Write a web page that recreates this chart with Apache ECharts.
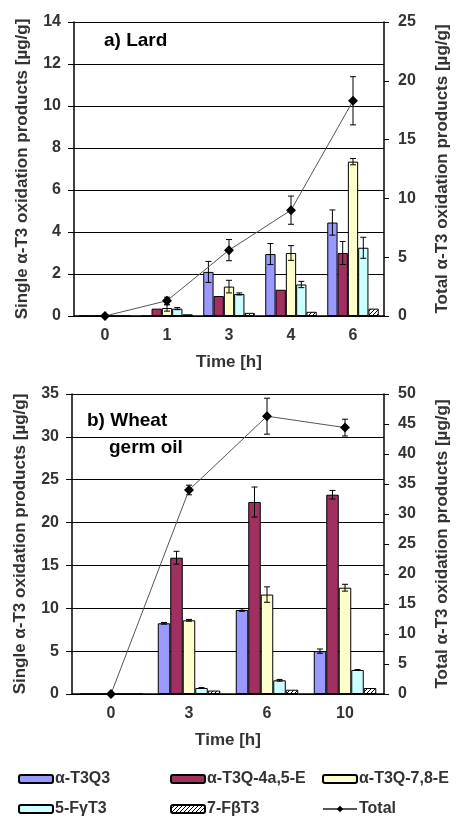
<!DOCTYPE html>
<html>
<head>
<meta charset="utf-8">
<script src="https://cdn.jsdelivr.net/npm/echarts@6/dist/echarts.min.js"></script>
<style>
html, body { margin: 0; padding: 0; background: #fff; }
#chart { width: 459px; height: 822px; }
</style>
</head>
<body>
<div id="chart"></div>
<script>
// names
var seriesNames = ['α-T3Q3', 'α-T3Q-4a,5-E', 'α-T3Q-7,8-E', '5-FγT3', '7-FβT3'];
var totalName = 'Total';

// a) Lard
var lardTimes = ['0', '1', '3', '4', '6'];
var lardQ3 = [0, 0, 2.1, 2.95, 4.45];
var lardQ3Err = [0, 0, 0.5, 0.5, 0.6];
var lard4a5E = [0, 0.35, 0.95, 1.25, 3.0];
var lard4a5EErr = [0, 0, 0, 0, 0.55];
var lard78E = [0, 0.38, 1.4, 3.0, 7.35];
var lard78EErr = [0, 0.15, 0.3, 0.35, 0.15];
var lardFg = [0, 0.35, 1.05, 1.5, 3.25];
var lardFgErr = [0, 0.05, 0.05, 0.15, 0.5];
var lardFb = [0, 0.08, 0.15, 0.2, 0.35];
var lardTotal = [0, 1.3, 5.6, 9.0, 18.3];
var lardTotalErr = [0, 0.3, 0.9, 1.2, 2.05];

// b) Wheat germ oil
var wheatTimes = ['0', '3', '6', '10'];
var wheatQ3 = [0, 8.25, 9.8, 5.0];
var wheatQ3Err = [0, 0.1, 0.15, 0.25];
var wheat4a5E = [0, 15.9, 22.4, 23.25];
var wheat4a5EErr = [0, 0.75, 1.75, 0.5];
var wheat78E = [0, 8.6, 11.6, 12.4];
var wheat78EErr = [0, 0.1, 0.9, 0.4];
var wheatFg = [0, 0.7, 1.6, 2.8];
var wheatFgErr = [0, 0.05, 0.1, 0.05];
var wheatFb = [0, 0.4, 0.5, 0.7];
var wheatTotal = [0, 34.0, 46.3, 44.4];
var wheatTotalErr = [0, 0.8, 3.0, 1.4];

var FONT = 'Liberation Sans';

function hatch() {
    var c = document.createElement('canvas');
    c.width = 4; c.height = 4;
    var g = c.getContext('2d');
    g.fillStyle = '#fff';
    g.fillRect(0, 0, 4, 4);
    g.strokeStyle = '#000';
    g.lineWidth = 1;
    g.beginPath();
    g.moveTo(-1, 5); g.lineTo(5, -1);
    g.stroke();
    return c;
}

var fills = ['#9999ff', '#a0305f', '#ffffcc', '#ccffff', { image: hatch(), repeat: 'repeat' }];

function errorRender(slot, barW) {
    return function (params, api) {
        var e = api.value(2);
        if (!e) return;
        var cat = api.value(0), v = api.value(1);
        var hi = api.coord([cat, v + e]);
        var lo = api.coord([cat, v - e]);
        var x = hi[0] + (slot - 2) * barW;
        var c = 3;
        var st = { stroke: '#000', lineWidth: 1 };
        return {
            type: 'group',
            children: [
                { type: 'line', shape: { x1: x, y1: hi[1], x2: x, y2: lo[1] }, style: st },
                { type: 'line', shape: { x1: x - c, y1: hi[1], x2: x + c, y2: hi[1] }, style: st },
                { type: 'line', shape: { x1: x - c, y1: lo[1], x2: x + c, y2: lo[1] }, style: st }
            ]
        };
    };
}

function errData(vals, errs) {
    return vals.map(function (v, i) { return [i, v, errs[i]]; });
}

function buildSeries(g, barW, bars, errs, total, totalErr) {
    var out = [];
    bars.forEach(function (vals, i) {
        out.push({
            name: seriesNames[i], type: 'bar',
            xAxisIndex: g, yAxisIndex: g * 2,
            barWidth: barW, barGap: '0%',
            itemStyle: { color: fills[i], borderColor: '#000', borderWidth: 1 },
            data: vals
        });
    });
    errs.forEach(function (e, i) {
        if (!e) return;
        out.push({
            type: 'custom', name: 'err' + g + i,
            xAxisIndex: g, yAxisIndex: g * 2, z: 5,
            renderItem: errorRender(i, barW),
            data: errData(bars[i], e)
        });
    });
    out.push({
        name: totalName, type: 'line',
        xAxisIndex: g, yAxisIndex: g * 2 + 1, z: 6,
        symbol: 'diamond', symbolSize: 10,
        itemStyle: { color: '#000' },
        lineStyle: { color: '#555', width: 1 },
        data: total
    });
    out.push({
        type: 'custom', name: 'errT' + g,
        xAxisIndex: g, yAxisIndex: g * 2 + 1, z: 6,
        renderItem: errorRender(2, 0),
        data: errData(total, totalErr)
    });
    return out;
}

var tickLabel = { fontFamily: FONT, fontWeight: 'bold', fontSize: 16, color: '#333' };
var nameStyle = { fontFamily: FONT, fontWeight: 'bold', fontSize: 17, color: '#333' };

function xAxis(g, data) {
    return {
        type: 'category', gridIndex: g, data: data,
        name: 'Time [h]', nameLocation: 'middle', nameGap: 38, nameTextStyle: nameStyle,
        axisLine: { lineStyle: { color: '#000', width: 1.5 } },
        axisTick: { length: 6, lineStyle: { color: '#000' } },
        axisLabel: Object.assign({ margin: 12 }, tickLabel)
    };
}

function yLeft(g, max, step) {
    return {
        type: 'value', gridIndex: g, min: 0, max: max, interval: step,
        name: 'Single α-T3 oxidation products [µg/g]', nameLocation: 'middle', nameGap: 43,
        nameTextStyle: nameStyle,
        axisLine: { show: true, lineStyle: { color: '#000', width: 1.5 } },
        axisTick: { show: true, length: 6, lineStyle: { color: '#000' } },
        axisLabel: Object.assign({ margin: 13 }, tickLabel),
        splitLine: { lineStyle: { color: '#000', width: 1 } }
    };
}

function yRight(g, max, step) {
    return {
        type: 'value', gridIndex: g, position: 'right', min: 0, max: max, interval: step,
        name: 'Total α-T3 oxidation products [µg/g]', nameLocation: 'middle', nameGap: 50,
        nameRotate: 90,
        nameTextStyle: nameStyle,
        axisLine: { show: true, lineStyle: { color: '#000', width: 1.5 } },
        axisTick: { show: true, length: 5, lineStyle: { color: '#000' } },
        axisLabel: Object.assign({ margin: 14 }, tickLabel),
        splitLine: { show: false }
    };
}

function legendAt(name, left, top) {
    return {
        data: [name], left: left, top: top, itemWidth: 34, itemHeight: 8,
        padding: 0,
        textStyle: { fontFamily: FONT, fontWeight: 'bold', fontSize: 16, color: '#333', padding: [0, 0, 0, -3] }
    };
}

var chart = echarts.init(document.getElementById('chart'));

var option = {
    animation: false,
    backgroundColor: '#fff',
    grid: [
        { left: 74, right: 65, top: 22, height: 294 },
        { left: 72, right: 64, top: 394, height: 300 }
    ],
    xAxis: [xAxis(0, lardTimes), xAxis(1, wheatTimes)],
    yAxis: [yLeft(0, 14, 2), yRight(0, 25, 5), yLeft(1, 35, 5), yRight(1, 50, 5)],
    legend: [
        legendAt(seriesNames[0], 18, 771),
        legendAt(seriesNames[1], 170, 771),
        legendAt(seriesNames[2], 322, 771),
        legendAt(seriesNames[3], 18, 801),
        legendAt(seriesNames[4], 170, 801),
        legendAt(totalName, 322, 801)
    ],
    graphic: [
        { type: 'text', left: 104, top: 31, style: { text: 'a) Lard', font: 'bold 19px "Liberation Sans"', fill: '#000' } },
        { type: 'text', left: 87, top: 411, style: { text: 'b) Wheat', font: 'bold 19px "Liberation Sans"', fill: '#000' } },
        { type: 'text', left: 109, top: 438, style: { text: 'germ oil', font: 'bold 19px "Liberation Sans"', fill: '#000', backgroundColor: '#fff' } }
    ],
    series: [].concat(
        buildSeries(0, 10.3,
            [lardQ3, lard4a5E, lard78E, lardFg, lardFb],
            [lardQ3Err, lard4a5EErr, lard78EErr, lardFgErr, null],
            lardTotal, lardTotalErr),
        buildSeries(1, 12.5,
            [wheatQ3, wheat4a5E, wheat78E, wheatFg, wheatFb],
            [wheatQ3Err, wheat4a5EErr, wheat78EErr, wheatFgErr, null],
            wheatTotal, wheatTotalErr)
    )
};

chart.setOption(option);
</script>
</body>
</html>
